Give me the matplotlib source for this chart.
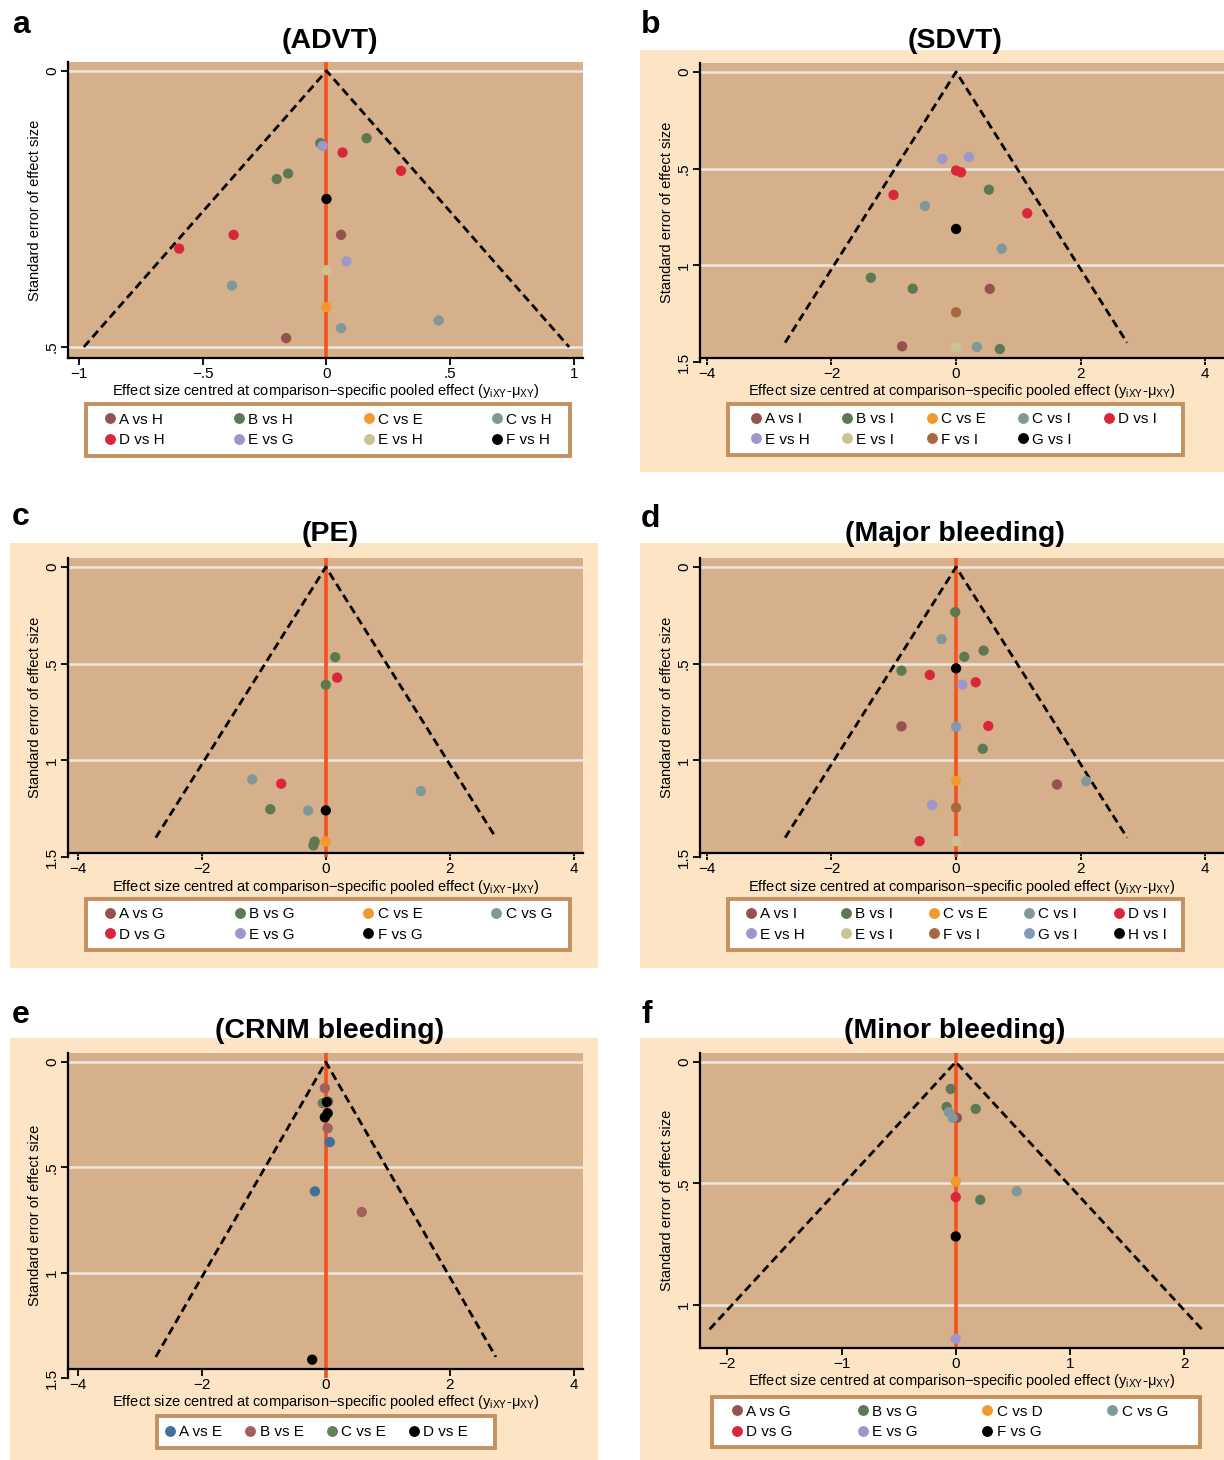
import matplotlib
matplotlib.use('Agg')
import matplotlib.pyplot as plt
from matplotlib.lines import Line2D
from matplotlib.patches import Rectangle

plt.rcParams['font.family'] = ['Liberation Sans', 'DejaVu Sans']
plt.rcParams['axes.unicode_minus'] = True

# ---------------- colours ----------------
COL_A = '#96524E'
COL_B = '#5E7852'
COL_OR = '#F2992E'
COL_GT = '#7F999A'
COL_D = '#D9263A'
COL_LAV = '#9D97CC'
COL_KH = '#CBC392'
COL_BR = '#A7683F'
COL_SL = '#8099B4'
COL_BLK = '#000000'
COL_EA = '#40709A'
COL_EB = '#A2605A'
COL_EC = '#63805A'

PLOT_BG = '#D5B08A'
OUTER_BG = '#FCE4C4'
GRID_C = '#EEE8E0'
VLINE_C = '#F4511E'
LEG_EDGE = '#C4905F'

# ---------------- data ----------------
# (a) ADVT
a_labels = ['A vs H', 'B vs H', 'C vs E', 'C vs H', 'D vs H', 'E vs G', 'E vs H', 'F vs H']
a_colors = [COL_A, COL_B, COL_OR, COL_GT, COL_D, COL_LAV, COL_KH, COL_BLK]
a_x = [[0.059, -0.163], [-0.025, 0.162, -0.155, -0.201], [0.0], [-0.382, 0.453, 0.059],
       [0.065, 0.301, -0.375, -0.595], [-0.016, 0.081], [0.0], [0.0]]
a_y = [[0.297, 0.484], [0.131, 0.122, 0.186, 0.196], [0.428], [0.389, 0.452, 0.466],
       [0.148, 0.181, 0.297, 0.322], [0.136, 0.345], [0.361], [0.232]]

# (b) SDVT
b_labels = ['A vs I', 'B vs I', 'C vs E', 'C vs I', 'D vs I', 'E vs H', 'E vs I', 'F vs I', 'G vs I']
b_colors = [COL_A, COL_B, COL_OR, COL_GT, COL_D, COL_LAV, COL_KH, COL_BR, COL_BLK]
b_x = [[0.54, -0.866], [0.527, -1.368, -0.696, 0.703], [], [-0.50, 0.734, 0.333],
       [0.0, 0.08, -1.004, 1.142], [-0.22, 0.207], [0.0], [0.0], [0.0]]
b_y = [[1.122, 1.419], [0.609, 1.064, 1.121, 1.433], [], [0.693, 0.914, 1.422],
       [0.51, 0.519, 0.636, 0.731], [0.45, 0.44], [1.422], [1.243], [0.812]]

# (c) PE
c_labels = ['A vs G', 'B vs G', 'C vs E', 'C vs G', 'D vs G', 'E vs G', 'F vs G']
c_colors = [COL_A, COL_B, COL_OR, COL_GT, COL_D, COL_LAV, COL_BLK]
c_x = [[], [0.152, 0.0, -0.896, -0.18, -0.2], [0.0], [-1.187, 1.534, -0.284],
       [0.183, -0.72], [], [0.0]]
c_y = [[], [0.466, 0.609, 1.253, 1.42, 1.44], [1.42], [1.098, 1.159, 1.26],
       [0.572, 1.121], [], [1.259]]

# (d) Major bleeding
d_labels = ['A vs I', 'B vs I', 'C vs E', 'C vs I', 'D vs I', 'E vs H', 'E vs I', 'F vs I', 'G vs I', 'H vs I']
d_colors = [COL_A, COL_B, COL_OR, COL_GT, COL_D, COL_LAV, COL_KH, COL_BR, COL_SL, COL_BLK]
d_x = [[-0.876, 1.619], [-0.013, 0.441, 0.132, -0.876, 0.428], [0.0], [-0.233, 2.09],
       [-0.422, 0.315, 0.517, -0.586], [0.1, -0.384], [0.0], [0.0], [0.0], [0.0]]
d_y = [[0.824, 1.125], [0.233, 0.432, 0.464, 0.536, 0.94], [1.106], [0.373, 1.108],
       [0.558, 0.596, 0.822, 1.418], [0.608, 1.231], [1.418], [1.245], [0.826], [0.524]]

# (e) CRNM bleeding
e_labels = ['A vs E', 'B vs E', 'C vs E', 'D vs E']
e_colors = [COL_EA, COL_EB, COL_EC, COL_BLK]
e_x = [[0.065, -0.176], [-0.016, 0.03, 0.58], [-0.05, 0.04], [0.016, 0.03, -0.016, -0.22]]
e_y = [[0.38, 0.614], [0.124, 0.314, 0.712], [0.195, 0.187], [0.19, 0.243, 0.262, 1.413]]

# (f) Minor bleeding
f_labels = ['A vs G', 'B vs G', 'C vs D', 'C vs G', 'D vs G', 'E vs G', 'F vs G']
f_colors = [COL_A, COL_B, COL_OR, COL_GT, COL_D, COL_LAV, COL_BLK]
f_x = [[0.01], [-0.044, -0.079, 0.175, 0.215], [0.0], [-0.061, -0.026, 0.535], [0.0], [0.0], [0.0]]
f_y = [[0.23], [0.111, 0.185, 0.193, 0.567], [0.492], [0.206, 0.23, 0.532], [0.556], [1.139], [0.718]]

titles = ['(ADVT)', '(SDVT)', '(PE)', '(Major bleeding)', '(CRNM bleeding)', '(Minor bleeding)']
letters = ['a', 'b', 'c', 'd', 'e', 'f']
funnel_se = [0.5, 1.4, 1.4, 1.4, 1.4, 1.1]

ticks_x_a = [-1, -0.5, 0, 0.5, 1]
ticklab_x_a = ['\u22121', '\u2212.5', '0', '.5', '1']
ticks_x_wide = [-4, -2, 0, 2, 4]
ticklab_x_wide = ['\u22124', '\u22122', '0', '2', '4']
ticks_x_f = [-2, -1, 0, 1, 2]
ticklab_x_f = ['\u22122', '\u22121', '0', '1', '2']
ticks_y_a = [0, 0.5]
ticklab_y_a = ['0', '.5']
ticks_y_std = [0, 0.5, 1, 1.5]
ticklab_y_std = ['0', '.5', '1', '1.5']
ticks_y_f = [0, 0.5, 1]
ticklab_y_f = ['0', '.5', '1']

XLABEL = ('Effect size centred at comparison\u2212specific pooled effect '
          '(y$_{\\mathregular{iXY}}$-\u03bc$_{\\mathregular{XY}}$)')
YLABEL = 'Standard error of effect size'

# ---------------- layout (pixels) ----------------
W, H = 1224, 1460
fig = plt.figure(figsize=(W / 100, H / 100), dpi=100)
fig.patch.set_facecolor('white')


def frect(x0, y0, x1, y1):
    return [x0 / W, 1 - y1 / H, (x1 - x0) / W, (y1 - y0) / H]


# plot: axes box (x0, top, x1, y at lowest tick); axis_y: data value where x-axis line sits
panels = [
    dict(data=(a_labels, a_colors, a_x, a_y), plot=(68, 62, 583, 358), xlim=(-1.044, 1.036),
         ylim=(0.52, -0.016), axis_y=None, xt=(ticks_x_a, ticklab_x_a), yt=(ticks_y_a, ticklab_y_a),
         vline=True, outer=None, legbox=(86, 404, 570, 456), legin=(103, 552), ncol=4,
         letter=(12, 33), title=(330, 48)),
    dict(data=(b_labels, b_colors, b_x, b_y), plot=(700, 63, 1224, 362), xlim=(-4.11, 4.3),
         ylim=(1.5, -0.046), axis_y=1.479, xt=(ticks_x_wide, ticklab_x_wide), yt=(ticks_y_std, ticklab_y_std),
         vline=False, outer=(640, 50, 1224, 472), legbox=(728, 404, 1183, 455), legin=(749, 1157), ncol=5,
         letter=(641, 33), title=(955, 48)),
    dict(data=(c_labels, c_colors, c_x, c_y), plot=(68, 558, 583, 857), xlim=(-4.16, 4.15),
         ylim=(1.5, -0.047), axis_y=1.48, xt=(ticks_x_wide, ticklab_x_wide), yt=(ticks_y_std, ticklab_y_std),
         vline=True, outer=(10, 543, 598, 968), legbox=(86, 899, 570, 950), legin=(103, 552), ncol=4,
         letter=(12, 525), title=(330, 541)),
    dict(data=(d_labels, d_colors, d_x, d_y), plot=(700, 558, 1224, 857), xlim=(-4.11, 4.3),
         ylim=(1.5, -0.047), axis_y=1.48, xt=(ticks_x_wide, ticklab_x_wide), yt=(ticks_y_std, ticklab_y_std),
         vline=True, outer=(640, 543, 1224, 968), legbox=(728, 899, 1183, 950), legin=(744, 1167), ncol=5,
         letter=(641, 527), title=(955, 541)),
    dict(data=(e_labels, e_colors, e_x, e_y), plot=(68, 1053, 583, 1378), xlim=(-4.16, 4.15),
         ylim=(1.5, -0.043), axis_y=1.457, xt=(ticks_x_wide, ticklab_x_wide), yt=(ticks_y_std, ticklab_y_std),
         vline=True, outer=(10, 1038, 598, 1460), legbox=(157, 1416, 495, 1448), legin=(163, 468), ncol=4,
         letter=(12, 1023), title=(330, 1038)),
    dict(data=(f_labels, f_colors, f_x, f_y), plot=(700, 1053, 1224, 1348), xlim=(-2.24, 2.35),
         ylim=(1.177, -0.037), axis_y=None, xt=(ticks_x_f, ticklab_x_f), yt=(ticks_y_f, ticklab_y_f),
         vline=True, outer=(640, 1038, 1224, 1460), legbox=(712, 1397, 1200, 1447), legin=(730, 1168), ncol=4,
         letter=(641, 1023), title=(955, 1038)),
]


def row_to_col_major(items, ncol):
    out = []
    for j in range(ncol):
        out.extend(items[j::ncol])
    return out


for i, p in enumerate(panels):
    labels, colors, xs, ys = p['data']
    if p['outer'] is not None:
        r = frect(*p['outer'])
        fig.patches.append(Rectangle((r[0], r[1]), r[2], r[3], transform=fig.transFigure,
                                     facecolor=OUTER_BG, edgecolor='none', zorder=-10))
    ax = fig.add_axes(frect(*p['plot']))
    ax.set_xlim(*p['xlim'])
    ax.set_ylim(*p['ylim'])
    if p['axis_y'] is None:
        ax.set_facecolor(PLOT_BG)
    else:
        ax.set_facecolor('none')
        ax.axhspan(p['ylim'][1], p['axis_y'], color=PLOT_BG, zorder=0, lw=0)
        ax.spines['bottom'].set_position(('data', p['axis_y']))
    for s in ['top', 'right']:
        ax.spines[s].set_visible(False)
    for s in ['left', 'bottom']:
        ax.spines[s].set_linewidth(1.6)
        ax.spines[s].set_color('black')
    ax.set_xticks(p['xt'][0])
    ax.set_xticklabels(p['xt'][1])
    ax.set_yticks(p['yt'][0])
    ax.set_yticklabels(p['yt'][1], rotation=90, va='center')
    ax.tick_params(direction='out', length=5, width=1.3, labelsize=11, pad=1.5)
    ax.yaxis.grid(True, color=GRID_C, lw=1.8, zorder=0.5)
    ax.xaxis.grid(False)
    ax.set_axisbelow(True)
    ax.set_xlabel(XLABEL, fontsize=10.5, labelpad=1)
    ax.set_ylabel(YLABEL, fontsize=10.5, labelpad=2)

    if p['vline']:
        ax.axvline(0, color=VLINE_C, lw=2.6, zorder=2)
    se = funnel_se[i]
    ax.plot([-1.96 * se, 0, 1.96 * se], [se, 0, se], color='black', lw=2.0,
            dashes=(3.0, 1.7), zorder=3)
    for lab, col, x, y in zip(labels, colors, xs, ys):
        ax.scatter(x, y, s=55, color=col, edgecolors='none', zorder=4)

    # legend frame
    r = frect(*p['legbox'])
    fig.patches.append(Rectangle((r[0], r[1]), r[2], r[3], transform=fig.transFigure,
                                 facecolor='white', edgecolor=LEG_EDGE, lw=2.8, zorder=1))
    handles = [Line2D([], [], marker='o', ls='none', color=c, markersize=6.8) for c in colors]
    hs = row_to_col_major(handles, p['ncol'])
    ls = row_to_col_major(labels, p['ncol'])
    lx0, lx1 = p['legin']
    _, ly0, _, ly1 = p['legbox']
    leg = fig.legend(hs, ls, loc='center', bbox_to_anchor=frect(lx0, ly0, lx1, ly1),
                     mode='expand', ncol=p['ncol'], frameon=False, fontsize=11,
                     handletextpad=0.15, handlelength=0.9, borderpad=0.0,
                     labelspacing=0.42, borderaxespad=0, columnspacing=0.5)
    leg.set_zorder(2)

    lx, ly = p['letter']
    fig.text(lx / W, 1 - ly / H, letters[i], fontsize=23, fontweight='bold',
             ha='left', va='baseline')
    tx, ty = p['title']
    fig.text(tx / W, 1 - ty / H, titles[i], fontsize=20.5, fontweight='bold',
             ha='center', va='baseline')

fig.savefig('out.png', dpi=100, facecolor='white')
